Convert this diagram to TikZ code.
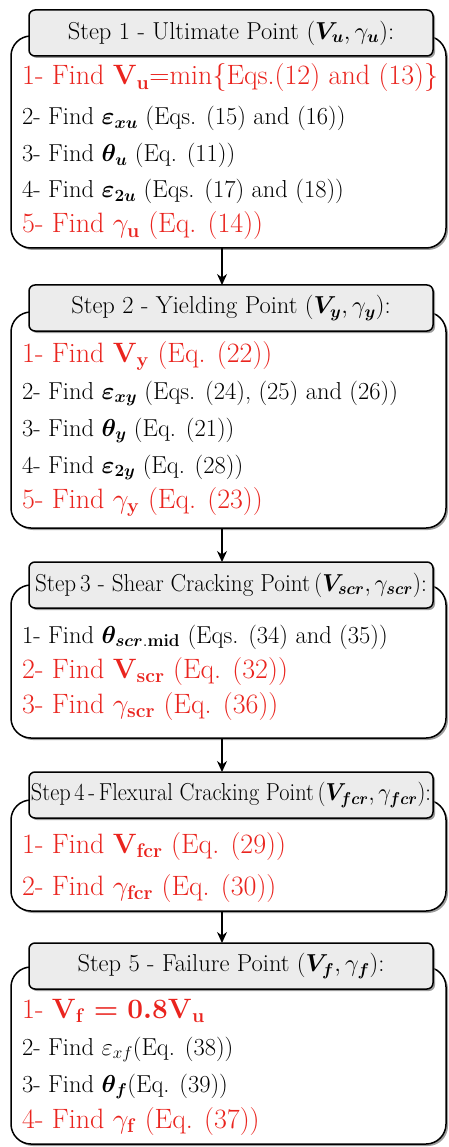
\RequirePackage{fix-cm}
\documentclass[tikz,border=0pt]{standalone}
\usepackage{amsmath,bm,graphicx}
\usetikzlibrary{shadows,arrows.meta}
\definecolor{redtxt}{RGB}{234,36,30}
\definecolor{hdrgray}{RGB}{236,236,236}
\newcommand{\blkfont}{\fontsize{24.5}{28}\selectfont}
\newcommand{\redfont}{\fontsize{28}{32}\selectfont}
\newcommand{\hdrfont}{\fontsize{24.5}{28}\selectfont}
\tikzset{
  boxshadow/.style={drop shadow={shadow xshift=2pt,shadow yshift=-2pt,fill=black!55,opacity=0.7}},
  bigbox/.style={draw=black,line width=1.5pt,rounded corners=20pt,fill=white,boxshadow,
    inner sep=0pt,outer sep=0pt,anchor=north west,minimum width=435pt},
  hdrbox/.style={draw=black,line width=1.5pt,rounded corners=6pt,fill=hdrgray,boxshadow,
    inner sep=0pt,outer sep=0pt,anchor=north west,minimum width=404pt,minimum height=46pt,
    font=\hdrfont},
  blkline/.style={anchor=base west,inner sep=0pt,font=\blkfont,text=black},
  redline/.style={anchor=base west,inner sep=0pt,font=\redfont,text=redtxt},
  flowarrow/.style={-{Stealth[length=11pt,width=10pt]},line width=1.2pt,draw=black}
}
\begin{document}
\begin{tikzpicture}[x=1pt,y=1pt]
\useasboundingbox (0,0) rectangle (448,-1147);
% ---------- Box 1
\node[bigbox,minimum height=212pt] (b1) at (11,-36) {};
\node[hdrbox] (h1) at (29,-10) {Step 1 - Ultimate Point $(\bm{V_u},\gamma_{\bm u})$:};
\node[redline] (t11) at (22,-85) {1- Find $\mathbf{V}_{\mathbf u}$=min$\{$Eqs.(12) and (13)$\}$};
\node[blkline] (t12) at (22,-125) {2- Find $\bm{\varepsilon}_{\bm{xu}}$ (Eqs. (15) and (16))};
\node[blkline] (t13) at (22,-162) {3- Find $\bm{\theta}_{\bm u}$ (Eq. (11))};
\node[blkline] (t14) at (22,-198) {4- Find $\bm{\varepsilon}_{\bm{2u}}$ (Eqs. (17) and (18))};
\node[redline] (t15) at (22,-233) {5- Find $\gamma_{\mathbf u}$ (Eq. (14))};
% ---------- Box 2
\node[bigbox,minimum height=216pt] (b2) at (11,-312) {};
\node[hdrbox] (h2) at (29,-285) {Step 2 - Yielding Point $(\bm{V_y},\gamma_{\bm y})$:};
\node[redline] (t21) at (22,-362) {1- Find $\mathbf{V}_{\mathbf y}$ (Eq. (22))};
\node[blkline] (t22) at (22,-399) {2- Find $\bm{\varepsilon}_{\bm{xy}}$ (Eqs. (24), (25) and (26))};
\node[blkline] (t23) at (22,-436) {3- Find $\bm{\theta}_{\bm y}$ (Eq. (21))};
\node[blkline] (t24) at (22,-473) {4- Find $\bm{\varepsilon}_{\bm{2y}}$ (Eq. (28))};
\node[redline] (t25) at (22,-508) {5- Find $\gamma_{\mathbf y}$ (Eq. (23))};
% ---------- Box 3
\node[bigbox,minimum height=153pt] (b3) at (11,-585) {};
\node[hdrbox] (h3) at (29,-562) {\resizebox{392pt}{\height}{Step\,3 - Shear Cracking Point\,$(\bm{V_{scr}},\gamma_{\bm{scr}})$:}};
\node[blkline] (t31) at (22,-643) {1- Find $\bm{\theta}_{\bm{scr}.\mathbf{mid}}$ (Eqs. (34) and (35))};
\node[redline] (t32) at (22,-678) {2- Find $\mathbf{V}_{\mathbf{scr}}$ (Eq. (32))};
\node[redline] (t33) at (22,-713) {3- Find $\gamma_{\mathbf{scr}}$ (Eq. (36))};
% ---------- Box 4
\node[bigbox,minimum height=111pt] (b4) at (11,-800) {};
\node[hdrbox] (h4) at (29,-772) {\resizebox{400pt}{\height}{Step\,4\,-\,Flexural Cracking Point\,$(\bm{V_{fcr}},\gamma_{\bm{fcr}})$:}};
\node[redline] (t41) at (22,-853) {1- Find $\mathbf{V}_{\mathbf{fcr}}$ (Eq. (29))};
\node[redline] (t42) at (22,-895) {2- Find $\gamma_{\mathbf{fcr}}$ (Eq. (30))};
% ---------- Box 5
\node[bigbox,minimum height=177pt] (b5) at (11,-967) {};
\node[hdrbox] (h5) at (29,-943) {Step 5 - Failure Point $(\bm{V_f},\gamma_{\bm f})$:};
\node[redline] (t51) at (22,-1018) {1- {\boldmath$\mathbf{V}_{\mathbf f}=\mathbf{0.8V}_{\mathbf u}$}};
\node[blkline] (t52) at (22,-1055) {2- Find $\varepsilon_{xf}$(Eq. (38))};
\node[blkline] (t53) at (22,-1092) {3- Find $\bm{\theta_f}$(Eq. (39))};
\node[redline] (t54) at (22,-1128) {4- Find $\gamma_{\mathbf f}$ (Eq. (37))};
% ---------- Arrows
\draw[flowarrow] ([xshift=-6.5pt]b1.south) -- ([xshift=-9pt]h2.north);
\draw[flowarrow] ([xshift=-6.5pt]b2.south) -- ([xshift=-9pt]h3.north);
\draw[flowarrow] ([xshift=-6.5pt]b3.south) -- ([xshift=-9pt]h4.north);
\draw[flowarrow] ([xshift=-6.5pt]b4.south) -- ([xshift=-9pt]h5.north);
\end{tikzpicture}
\end{document}
